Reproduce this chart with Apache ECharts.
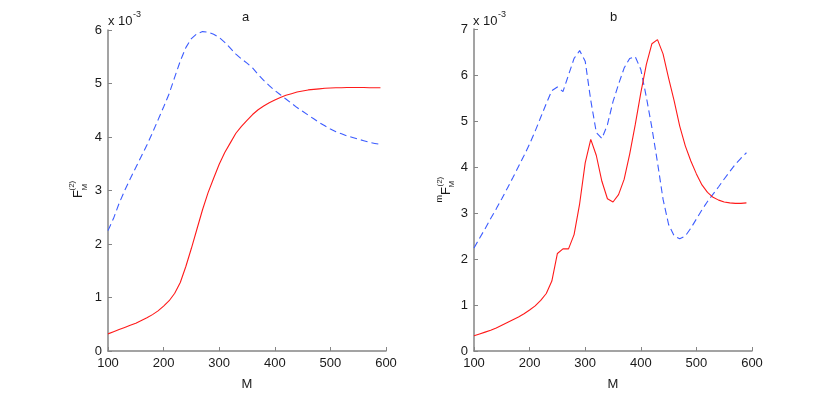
<!DOCTYPE html>
<html>
<head>
<meta charset="utf-8">
<script src="https://cdn.jsdelivr.net/npm/echarts@6/dist/echarts.min.js"></script>
<style>html,body{margin:0;padding:0;background:#fff;}#c{width:830px;height:396px;}</style>
</head>
<body>
<div id="c"></div>
<script>
const mValues = [100,110,120,130,140,150,160,170,180,190,200,210,220,230,240,250,260,270,280,290,300,310,320,330,340,350,360,370,380,390,400,410,420,430,440,450,460,470,480,490,500,510,520,530,540,550,560,570,580,590];
const xTicks = [100,200,300,400,500,600];
const yTicksA = [0,1,2,3,4,5,6];
const yTicksB = [0,1,2,3,4,5,6,7];

// panel a (values x 10^-3)
const aRed = [0.32,0.36,0.40,0.44,0.48,0.52,0.57,0.62,0.68,0.75,0.84,0.94,1.08,1.28,1.58,1.92,2.28,2.64,2.96,3.23,3.49,3.71,3.89,4.07,4.20,4.31,4.42,4.51,4.58,4.64,4.69,4.74,4.78,4.81,4.84,4.86,4.88,4.89,4.90,4.91,4.915,4.92,4.92,4.925,4.925,4.925,4.925,4.92,4.92,4.92];
const aBlue = [2.25,2.48,2.76,3.00,3.22,3.43,3.64,3.85,4.08,4.32,4.56,4.81,5.12,5.42,5.67,5.84,5.93,5.97,5.96,5.92,5.86,5.77,5.66,5.55,5.46,5.38,5.29,5.17,5.06,4.96,4.87,4.79,4.71,4.63,4.55,4.48,4.41,4.34,4.27,4.21,4.15,4.10,4.06,4.02,3.99,3.96,3.93,3.90,3.88,3.86];

// panel b (values x 10^-3)
const bRed = [0.33,0.37,0.41,0.45,0.50,0.56,0.62,0.68,0.74,0.81,0.89,0.98,1.10,1.25,1.52,2.12,2.22,2.22,2.53,3.20,4.09,4.60,4.25,3.69,3.31,3.24,3.40,3.73,4.28,4.92,5.61,6.23,6.68,6.77,6.46,5.93,5.44,4.89,4.46,4.13,3.85,3.61,3.45,3.34,3.28,3.24,3.22,3.21,3.21,3.22];
const bBlue = [2.24,2.45,2.66,2.88,3.09,3.31,3.54,3.77,4.01,4.25,4.50,4.78,5.08,5.38,5.66,5.74,5.64,6.00,6.36,6.53,6.30,5.45,4.75,4.62,4.92,5.42,5.80,6.15,6.36,6.40,6.12,5.52,4.85,4.10,3.30,2.75,2.50,2.44,2.50,2.67,2.87,3.07,3.25,3.41,3.57,3.74,3.90,4.06,4.19,4.31];

const FONT = 'Liberation Sans, Arial, Helvetica, sans-serif';
const axisCol = '#858585';
const txtCol = '#1a1a1a';
const redCol = '#ff1a1a';
const blueCol = '#3c5cff';

function pairs(ys){ return mValues.map((m,i)=>[m, ys[i]]); }

function xAxisDef(idx){
  return {
    type:'value', gridIndex:idx, min:xTicks[0], max:xTicks[xTicks.length-1], interval:100,
    name:'M', nameLocation:'middle', nameGap:27,
    nameTextStyle:{fontFamily:FONT, fontSize:13, color:txtCol},
    axisLine:{show:true, lineStyle:{color:axisCol, width:1.5}},
    axisTick:{show:true, inside:true, length:4, lineStyle:{color:axisCol, width:1}},
    axisLabel:{fontFamily:FONT, fontSize:13, color:txtCol, margin:6},
    splitLine:{show:false}
  };
}
function yAxisDef(idx, ticks){
  return {
    type:'value', gridIndex:idx, min:ticks[0], max:ticks[ticks.length-1], interval:1,
    axisLine:{show:true, onZero:false, lineStyle:{color:axisCol, width:1.5}},
    axisTick:{show:true, inside:true, length:4, lineStyle:{color:axisCol, width:1}},
    axisLabel:{fontFamily:FONT, fontSize:13, color:txtCol, margin:6},
    splitLine:{show:false}
  };
}
function lineSeries(idx, ys, color, dashed){
  return {
    type:'line', xAxisIndex:idx, yAxisIndex:idx, data:pairs(ys), showSymbol:false, symbol:'none',
    lineStyle:{color:color, width:1.1, type: dashed ? [7,4] : 'solid'},
    animation:false, silent:true
  };
}
function txt(x,y,s,size,align){
  return {type:'text', x:x, y:y, style:{text:s, fontFamily:FONT, fontSize:size, fill:txtCol, align:align||'left', verticalAlign:'middle'}};
}

const chart = echarts.init(document.getElementById('c'));
chart.setOption({
  backgroundColor:'#fff',
  animation:false,
  grid:[
    {left:108, top:30, width:278, height:322},
    {left:474, top:29, width:278, height:323}
  ],
  xAxis:[xAxisDef(0), xAxisDef(1)],
  yAxis:[yAxisDef(0, yTicksA), yAxisDef(1, yTicksB)],
  series:[
    lineSeries(0, aBlue, blueCol, true),
    lineSeries(0, aRed, redCol, false),
    lineSeries(1, bBlue, blueCol, true),
    lineSeries(1, bRed, redCol, false)
  ],
  graphic:[
    txt(245.5, 17, 'a', 13, 'center'),
    txt(613.5, 17, 'b', 13, 'center'),
    txt(108, 21, 'x 10', 13),
    txt(133, 14.5, '-3', 9),
    txt(473, 21, 'x 10', 13),
    txt(498, 14.5, '-3', 9),
    {type:'group', x:78.5, y:198, rotation:Math.PI/2, children:[
      txt(0, 0, 'F', 13),
      txt(7.5, -6.5, '(2)', 8),
      txt(7.5, 6.5, 'M', 8)
    ]},
    {type:'group', x:446, y:195, rotation:Math.PI/2, children:[
      txt(0, -6, 'm', 9, 'right'),
      txt(0, 0, 'F', 13),
      txt(8.5, -6, '(2)', 8),
      txt(7.5, 5.5, 'M', 8)
    ]}
  ]
});
</script>
</body>
</html>
